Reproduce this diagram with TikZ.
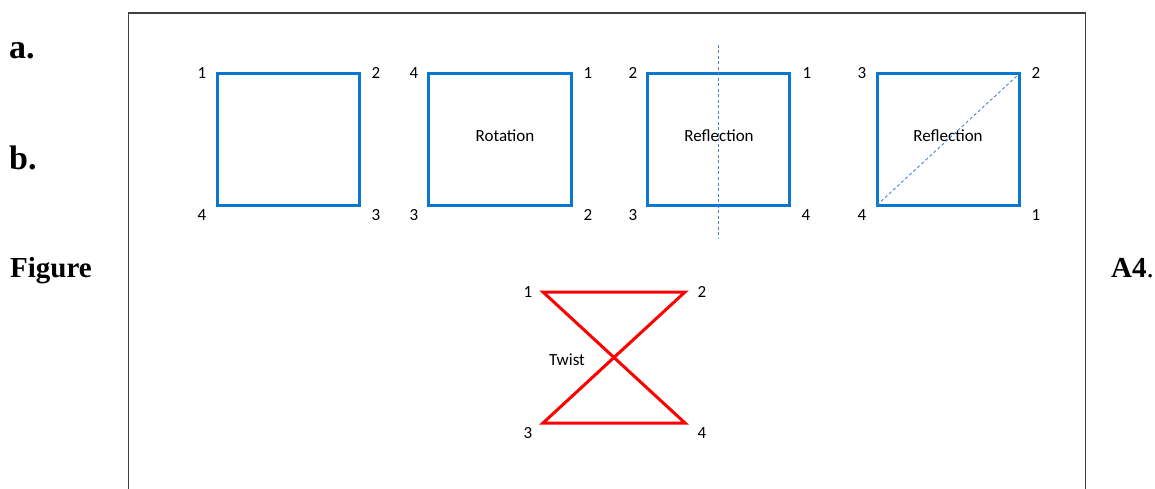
\documentclass[tikz,border=0pt]{standalone}
\usepackage{fontspec}
\setmainfont{Carlito}
\newfontfamily\serifbold{Liberation Serif}
\definecolor{sqblue}{HTML}{0A78D2}
\definecolor{dashblue}{HTML}{4A7FD0}
\definecolor{framegray}{HTML}{404040}
\definecolor{twistred}{HTML}{FF0000}
\begin{document}
\begin{tikzpicture}[x=1pt,y=-1pt,
  sq/.style={draw=sqblue,line width=3pt},
  tw/.style={draw=twistred,line width=3pt,line join=miter},
  num/.style={font=\fontsize{17}{20}\selectfont,inner sep=0pt,anchor=center},
  lbl/.style={font=\fontsize{17}{20}\selectfont,inner sep=0pt,anchor=center},
  axis/.style={draw=dashblue,line width=0.9pt,dash pattern=on 3pt off 2.5pt},
  side/.style={font=\serifbold\bfseries\fontsize{29}{34}\selectfont,inner sep=0pt,anchor=base west},
  frame/.style={draw=framegray,line width=1.4pt}]
\useasboundingbox (0,0) rectangle (1155,489);
% frame (open at the bottom)
\coordinate (fbl) at (128.5,495);
\coordinate (ftl) at (128.5,13);
\coordinate (ftr) at (1085.5,13);
\coordinate (fbr) at (1085.5,495);
\draw[frame] (fbl) -- (ftl) -- (ftr) -- (fbr);
% side texts
\node[side,font=\serifbold\bfseries\fontsize{34}{40}\selectfont] (ta) at (9,59) {a.};
\node[side,font=\serifbold\bfseries\fontsize{34}{40}\selectfont] (tb) at (9,170) {b.};
\node[side] (tfig) at (10,277) {Figure};
\node[side] (ta4) at (1111,277) {A4\textmd{.}};
% square 1
\coordinate (a1) at (217,74); \coordinate (a2) at (359,74);
\coordinate (a3) at (359,205); \coordinate (a4) at (217,205);
\draw[sq] (a1) -- (a2) -- (a3) -- (a4) -- cycle;
\node[num] (na1) at (202,73) {1};
\node[num] (na2) at (376,73) {2};
\node[num] (na3) at (376,215) {3};
\node[num] (na4) at (202,215) {4};
% square 2 rotation
\coordinate (b1) at (428,74); \coordinate (b2) at (571,74);
\coordinate (b3) at (571,205); \coordinate (b4) at (428,205);
\draw[sq] (b1) -- (b2) -- (b3) -- (b4) -- cycle;
\node[num] (nb1) at (414,73) {4};
\node[num] (nb2) at (588,73) {1};
\node[num] (nb3) at (588,215) {2};
\node[num] (nb4) at (414,215) {3};
\node[lbl] (trot) at (505,136) {Rotation};
% square 3 reflection (vertical axis)
\coordinate (c1) at (647,74); \coordinate (c2) at (789,74);
\coordinate (c3) at (789,205); \coordinate (c4) at (647,205);
\draw[sq] (c1) -- (c2) -- (c3) -- (c4) -- cycle;
\node[num] (nc1) at (633,73) {2};
\node[num] (nc2) at (807,73) {1};
\node[num] (nc3) at (806,215) {4};
\node[num] (nc4) at (633,215) {3};
\node[lbl] (tref1) at (719,136) {Reflection};
\coordinate (vt) at (718,45); \coordinate (vb) at (718,239);
\draw[axis] (vt) -- (vb);
% square 4 reflection (diagonal axis)
\coordinate (d1) at (877,74); \coordinate (d2) at (1019,74);
\coordinate (d3) at (1019,205); \coordinate (d4) at (877,205);
\draw[sq] (d1) -- (d2) -- (d3) -- (d4) -- cycle;
\node[num] (nd1) at (862,73) {3};
\node[num] (nd2) at (1036,73) {2};
\node[num] (nd3) at (1036,215) {1};
\node[num] (nd4) at (862,215) {4};
\node[lbl] (tref2) at (948,136) {Reflection};
\draw[axis] (d4) -- (d2);
% twist
\coordinate (t1) at (543,292); \coordinate (t2) at (685,292);
\coordinate (t3) at (543,423); \coordinate (t4) at (685,423);
\draw[tw] (t1) -- (t2) -- (t3) -- (t4) -- cycle;
\node[num] (nt1) at (528,292) {1};
\node[num] (nt2) at (702,292) {2};
\node[num] (nt3) at (528,433) {3};
\node[num] (nt4) at (702,433) {4};
\node[lbl] (ttw) at (567,360) {Twist};
\end{tikzpicture}
\end{document}
